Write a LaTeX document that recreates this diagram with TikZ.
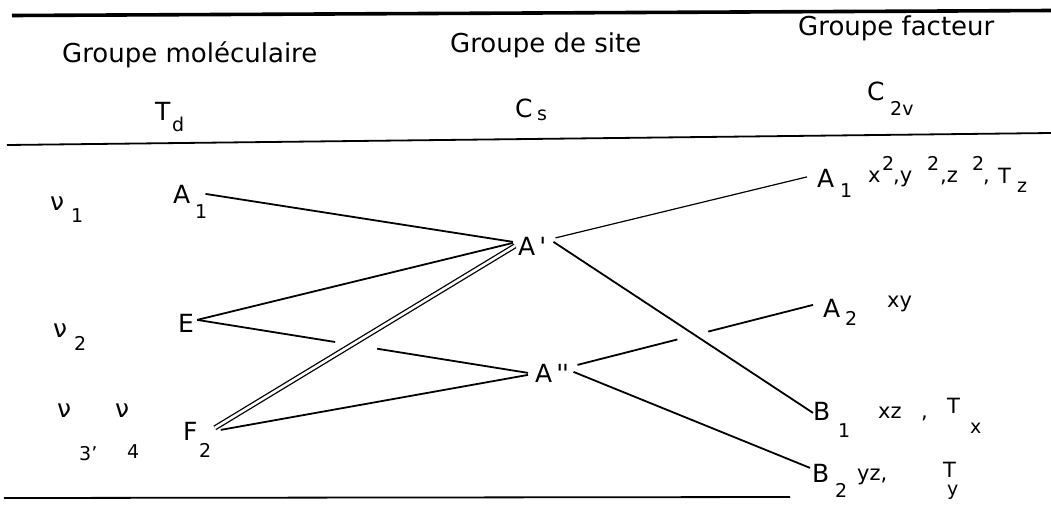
\documentclass[tikz,border=0pt]{standalone}
\usepackage{fontspec}
\setmainfont{DejaVu Sans}
\usetikzlibrary{calc}
\begin{document}
\begin{tikzpicture}[x=1pt,y=-1pt,
 lbl/.style={font=\fontsize{25}{25}\selectfont, inner sep=0pt, anchor=base west},
 sbl/.style={font=\fontsize{19}{19}\selectfont, inner sep=0pt, anchor=base west},
 hdr/.style={font=\fontsize{26}{26}\selectfont, inner sep=0pt, anchor=base west},
 ann/.style={font=\fontsize{21}{21}\selectfont, inner sep=0pt, anchor=base west},
 link/.style={line width=1.8pt},
 thinlink/.style={line width=1.2pt},
 dbl/.style={double, double distance=2.6pt, line width=1.3pt}]
\useasboundingbox (0,0) rectangle (1051,504);
% rules
\draw[line width=3.6pt] (12,15.5) -- (1051,10.5);
\draw[line width=1.8pt] (7,145) -- (1051,133);
\draw[line width=1.8pt] (4,498) -- (790,497);
% headers
\node[hdr] (hGm) at (62,62) {Groupe moléculaire};
\node[hdr] (hGs) at (450,52) {Groupe de site};
\node[hdr] (hGf) at (798,35) {Groupe facteur};
\node[lbl] (hT) at (155,120) {T};
\node[sbl] (hTd) at (172,131) {d};
\node[lbl] (hC) at (515,117) {C};
\node[sbl] (hCs) at (537,120) {s};
\node[lbl] (hC2) at (867,100) {C};
\node[sbl] (hC2v) at (890,115) {2v};
% left column
\node[lbl] (nu1) at (50,210) {ν};
\node[sbl] (nu1s) at (71,222) {1};
\node[lbl] (nu2) at (53,337) {ν};
\node[sbl] (nu2s) at (74,350) {2};
\node[lbl] (nu3) at (57,417) {ν};
\node[sbl] (nu3s) at (79,460) {3’};
\node[lbl] (nu4) at (115,417) {ν};
\node[sbl] (nu4s) at (127,458) {4};
\node[lbl] (nA1) at (173,203) {A};
\node[sbl] (nA1s) at (195,218) {1};
\node[lbl] (nE) at (178,332) {E};
\node[lbl] (nF) at (183,440) {F};
\node[sbl] (nFs) at (199,457) {2};
% centre
\node[lbl] (nAp) at (518,255) {A\rlap{\kern4pt\textquotesingle}};
\node[lbl] (nApp) at (535,382) {A\rlap{\kern4pt\textquotesingle\kern-1pt\textquotesingle}};
% right column
\node[lbl] (rA1) at (817,187) {A};
\node[sbl] (rA1s) at (840,197) {1};
\node[ann] (rx) at (868,182) {x};
\node[sbl] (rx2) at (882,170) {2};
\node[ann] (ry) at (893,182) {,y};
\node[sbl] (ry2) at (927,170) {2};
\node[ann] (rz) at (940,182) {,z};
\node[sbl] (rz2) at (972,170) {2};
\node[ann] (rc) at (983,182) {,};
\node[ann] (rT) at (998,183) {T};
\node[sbl] (rTz) at (1017,192) {z};
\node[lbl] (rA2) at (823,317) {A};
\node[sbl] (rA2s) at (845,325) {2};
\node[ann] (rxy) at (887,307) {xy};
\node[lbl] (rB1) at (813,420) {B};
\node[sbl] (rB1s) at (838,437) {1};
\node[ann] (rxz) at (878,418) {xz};
\node[ann] (rc1) at (921,418) {,};
\node[ann] (rTx) at (947,413) {T};
\node[sbl] (rTxs) at (970,433) {x};
\node[lbl] (rB2) at (812,482) {B};
\node[sbl] (rB2s) at (835,497) {2};
\node[ann] (ryz) at (857,480) {yz,};
\node[ann] (rTy) at (943,477) {T};
\node[sbl] (rTys) at (947,495) {y};
% attachment points taken from the nodes
\coordinate (pA1) at ($(nA1.east)+(15,0)$);
\coordinate (pE) at ($(nE.east)+(3,-3)$);
\coordinate (pF) at ($(nF.east)+(17,-3)$);
\coordinate (pFb) at ($(nF.east)+(23,-1)$);
\coordinate (pApL) at ($(nAp.west)+(-5,-4)$);
\coordinate (pApL2) at ($(nAp.west)+(-5,-3)$);
\coordinate (pApL3) at ($(nAp.west)+(-3,0)$);
\coordinate (pApR) at ($(nAp.east)+(20,-8)$);
\coordinate (pApR2) at ($(nAp.east)+(18,-4)$);
\coordinate (pAppL) at ($(nApp.west)+(-7,0)$);
\coordinate (pAppL2) at ($(nApp.west)+(-7,2)$);
\coordinate (pAppR) at ($(nApp.east)+(25,-8)$);
\coordinate (pAppR2) at ($(nApp.east)+(21,-1)$);
\coordinate (prA1) at ($(rA1.west)+(-10,-1)$);
\coordinate (prA2) at ($(rA2.west)+(-10,-3)$);
\coordinate (prB1) at ($(rB1.west)+(0,2)$);
\coordinate (prB2) at ($(rB2.west)+(-2,-5)$);
% connectors
\draw[link] (pA1) -- (pApL);
\draw[link] (pE) -- (pApL2);
\draw[link] (pE) -- ($(pE)!0.417!(pAppL)$);
\draw[link] ($(pE)!0.544!(pAppL)$) -- (pAppL);
\draw[dbl] (pF) -- (pApL3);
\draw[link] (pFb) -- (pAppL2);
\draw[thinlink] (pApR) -- (prA1);
\draw[link] (pApR2) -- (prB1);
\draw[link] (pAppR) -- ($(pAppR)!0.424!(prA2)$);
\draw[link] ($(pAppR)!0.555!(prA2)$) -- (prA2);
\draw[link] (pAppR2) -- (prB2);
\end{tikzpicture}
\end{document}
